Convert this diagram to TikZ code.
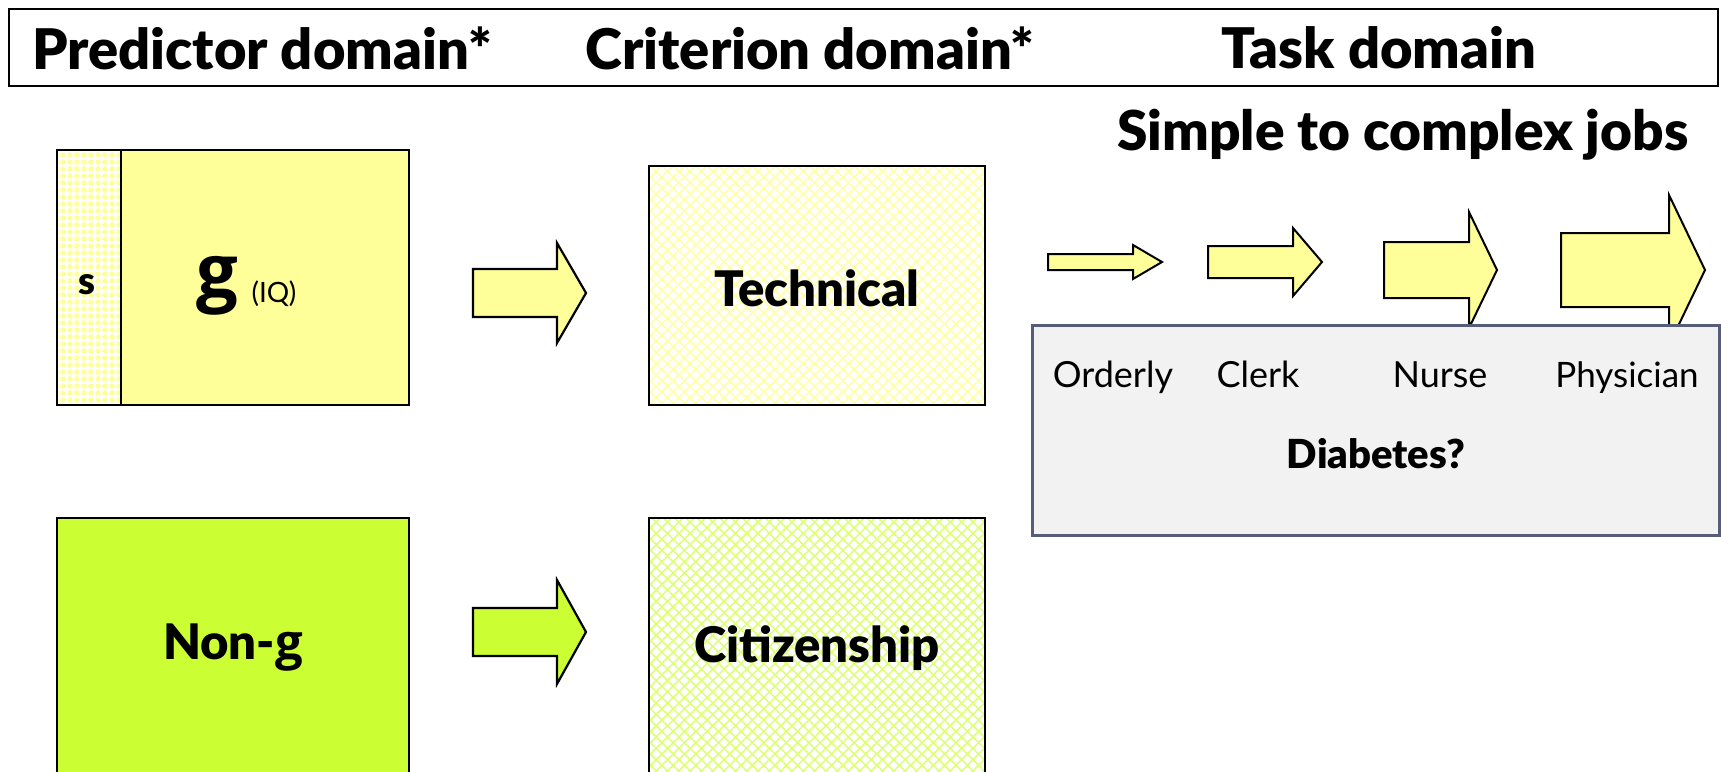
\documentclass[tikz,border=0pt]{standalone}
\usepackage{fontspec}
\setmainfont{Lato}[BoldFont={Lato Black}]
\newfontfamily\gfont{Open Sans}
\usetikzlibrary{patterns.meta}

\definecolor{paleyellow}{HTML}{FFFF99}
\definecolor{lime}{HTML}{CCFF33}
\definecolor{hatchyellow}{HTML}{FFFFA8}
\definecolor{hatchlime}{HTML}{DDFF77}
\definecolor{boxgray}{HTML}{F2F2F2}
\definecolor{slate}{HTML}{565C7A}

% block arrow: name, style, x-left, x-head, x-tip, y-centre, shaft half-height, head half-height
\newcommand{\blockarrow}[8]{%
  \draw[#2] (#3,{#6-#7}) -- (#4,{#6-#7}) -- (#4,{#6-#8}) -- (#5,#6)
    -- (#4,{#6+#8}) -- (#4,{#6+#7}) -- (#3,{#6+#7}) -- cycle;
  \coordinate (#1) at (#5,#6);
}

\tikzset{
  domainbox/.style={draw=black, line width=2.8pt},
  bigarrowY/.style={draw=black, line width=2.2pt, fill=paleyellow, line join=miter},
  bigarrowG/.style={draw=black, line width=2.2pt, fill=lime, line join=miter},
  jobarrow/.style={draw=black, line width=2pt, fill=paleyellow, line join=miter},
  hdr/.style={font=\bfseries\fontsize{56}{62}\selectfont, inner sep=0pt},
  bigword/.style={font=\bfseries\fontsize{49}{56}\selectfont, inner sep=0pt},
  job/.style={font=\fontsize{36}{42}\selectfont, inner sep=0pt},
}

\begin{document}
\begin{tikzpicture}[x=1pt, y=-1pt]
\clip (0,0) rectangle (1721,771);
\fill[white] (0,0) rectangle (1721,771);

% title bar
\draw[line width=2pt] (9,9) rectangle (1718,86);
\node[hdr] (hp) at (262,48) {Predictor domain*};
\node[hdr] (hc) at (810,48) {Criterion domain*};
\node[hdr] (ht) at (1379,48) {Task domain};

\node[font=\bfseries\fontsize{55}{60}\selectfont, inner sep=0pt] (jobs) at (1403,135) {Simple to complex jobs};

% predictor domain: s strip and g block
\fill[paleyellow] (121,150) rectangle (409,405);
\fill[white] (57,150) rectangle (121,405);
\fill[pattern={Dots[radius=2.8pt,distance=7pt]}, pattern color=paleyellow] (57,150) rectangle (121,405);
\draw[domainbox] (57,150) rectangle (121,405);
\draw[domainbox] (121,150) rectangle (409,405);
\node[font=\bfseries\fontsize{38}{42}\selectfont, inner sep=0pt] (s) at (87,285) {s};
\node[font=\gfont\bfseries\fontsize{74}{80}\selectfont, anchor=base, inner sep=0pt] (g) at (217,297) {g};
\node[font=\fontsize{28}{32}\selectfont, inner sep=0pt] (iq) at (274,294) {(IQ)};

% non-g block
\draw[domainbox, fill=lime] (57,518) rectangle (409,800);
\node[bigword] (nong) at (233,648) {Non-{\gfont g}};

% criterion domain
\fill[white] (649,166) rectangle (985,405);
\fill[pattern={Hatch[angle=45,distance=8pt,line width=1.6pt]}, pattern color=hatchyellow] (649,166) rectangle (985,405);
\draw[domainbox] (649,166) rectangle (985,405);
\node[bigword] (tech) at (817,288) {Technical};

\fill[white] (649,518) rectangle (985,800);
\fill[pattern={Hatch[angle=45,distance=8pt,line width=1.6pt]}, pattern color=hatchlime] (649,518) rectangle (985,800);
\draw[domainbox] (649,518) rectangle (985,800);
\node[bigword] (citi) at (817,648) {Citizenship};

% predictor to criterion arrows
\blockarrow{a1}{bigarrowY}{473}{557}{586}{293}{24}{50}
\blockarrow{a2}{bigarrowG}{473}{557}{586}{632}{24}{52}

% job complexity arrows
\blockarrow{jo}{jobarrow}{1048}{1133}{1162}{262}{8}{17}
\blockarrow{jc}{jobarrow}{1208}{1293}{1322}{262}{16}{34}
\blockarrow{jn}{jobarrow}{1384}{1469}{1497}{270}{28}{58}
\blockarrow{jp}{jobarrow}{1561}{1669}{1705}{270}{37}{75}

% job panel
\draw[draw=slate, line width=3pt, fill=boxgray] (1032,325) rectangle (1719,535);
\node[job, anchor=base] (orderly) at (1113,387) {Orderly};
\node[job, anchor=base] (clerk) at (1258,387) {Clerk};
\node[job, anchor=base] (nurse) at (1440,387) {Nurse};
\node[job, anchor=base, font=\fontsize{35}{42}\selectfont] (phys) at (1627,387) {Physician};
\node[font=\bfseries\fontsize{40}{46}\selectfont, inner sep=0pt] (diab) at (1376,454) {Diabetes?};
\end{tikzpicture}
\end{document}
